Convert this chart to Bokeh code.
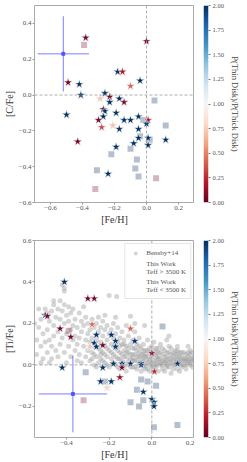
import numpy as np
from bokeh.plotting import figure
from bokeh.models import (ColumnDataSource, LinearColorMapper, FixedTicker,
                          CustomJSTickFormatter, Span, Legend, LegendItem)
from bokeh.layouts import column, row
from bokeh.embed import file_html
from bokeh.resources import INLINE
from bokeh.transform import transform

# ---------------- data: top panel [C/Fe] ----------------
c_star_feh = [-0.38, 0.00, -0.49, -0.42, -0.41, -0.18, -0.15, -0.04, -0.10, -0.26,
              -0.29, -0.23, -0.17, -0.23, -0.14, -0.27, -0.26, -0.19, -0.50, -0.27,
              -0.05, -0.30, -0.14, -0.10, 0.01, 0.00, -0.28, -0.21, -0.17, -0.05,
              -0.05, 0.01, 0.12, -0.43, -0.08, 0.01, -0.19, -0.24]
c_star_cfe = [0.32, 0.30, 0.07, 0.06, 0.00, 0.13, 0.13, 0.08, 0.05, 0.01,
              -0.02, -0.01, -0.02, -0.04, -0.04, -0.08, -0.09, -0.10, -0.11, -0.12,
              -0.12, -0.14, -0.14, -0.14, -0.14, -0.16, -0.18, -0.17, -0.19, -0.19,
              -0.24, -0.24, -0.25, -0.26, -0.27, -0.28, -0.29, -0.44]
c_star_ratio = [0.05, 0.05, 0.05, 2.0, 2.0, 2.0, 0.2, 2.0, 0.42, 2.0,
                0.72, 0.05, 2.0, 2.0, 0.08, 0.05, 2.0, 2.0, 2.0, 2.0,
                2.0, 0.05, 2.0, 2.0, 0.2, 2.0, 0.35, 0.72, 2.0, 2.0,
                2.0, 2.0, 2.0, 0.05, 2.0, 2.0, 2.0, 2.0]

c_sq_feh = [-0.39, 0.05, -0.02, 0.12, -0.04, 0.02, -0.10, -0.22, -0.06, -0.31,
            -0.07, -0.05, 0.06, -0.32]
c_sq_cfe = [0.28, -0.03, -0.14, -0.17, -0.23, -0.25, -0.30, -0.33, -0.36, -0.42,
            -0.41, -0.455, -0.465, -0.525]
c_sq_ratio = [0.05, 2.0, 2.0, 2.0, 2.0, 2.0, 2.0, 2.0, 2.0, 2.0,
              2.0, 2.0, 0.05, 0.05]

c_err_feh, c_err_cfe = [-0.52], [0.23]
c_err_dfeh, c_err_dcfe = [0.16], [0.21]

# ---------------- data: bottom panel [Ti/Fe] ----------------
t_star_feh = [-0.41, -0.30, -0.27, -0.50, -0.49, -0.43, -0.38, -0.28, -0.10, -0.26,
              -0.19, -0.17, -0.08, -0.27, -0.26, -0.23, -0.29, -0.17, 0.00, -0.42,
              -0.23, -0.18, -0.14, -0.14, -0.10, -0.05, -0.05, 0.12, 0.012, -0.15,
              -0.24, -0.19, -0.21, -0.04, 0.00, 0.01, 0.01]
t_star_tife = [0.40, 0.32, 0.32, 0.24, 0.235, 0.175, 0.135, 0.195, 0.175, 0.145,
               0.145, 0.115, 0.115, 0.105, 0.088, 0.095, 0.088, 0.088, 0.057, -0.013,
               -0.013, 0.006, 0.006, -0.013, 0.006, 0.008, 0.0, 0.006, -0.032, -0.06,
               -0.08, -0.08, -0.11, -0.13, -0.165, -0.18, -0.20]
t_star_ratio = [2.0, 0.05, 0.05, 2.0, 0.05, 0.05, 0.05, 0.45, 0.4, 2.0,
                2.0, 2.0, 2.0, 2.0, 2.0, 0.05, 0.72, 2.0, 0.1, 2.0,
                2.0, 2.0, 2.0, 0.05, 2.0, 2.0, 2.0, 2.0, 0.25, 0.15,
                2.0, 2.0, 0.78, 2.0, 2.0, 2.0, 2.0]

t_sq_feh = [-0.39, 0.05, -0.31, -0.22, -0.05, -0.02, 0.02, -0.07, -0.04, -0.32,
            -0.10, -0.06, 0.01, 0.12]
t_sq_tife = [0.165, 0.185, -0.035, -0.08, -0.07, -0.08, -0.10, -0.12, -0.17, -0.17,
             -0.18, -0.20, -0.30, -0.29]
t_sq_ratio = [0.05, 2.0, 2.0, 2.0, 2.0, 2.0, 2.0, 2.0, 2.0, 0.05,
              2.0, 2.0, 2.0, 2.0]

t_err_feh, t_err_tife = [-0.37], [-0.14]
t_err_dfeh, t_err_dtife = [0.16], [0.185]

# Bensby+14 comparison sample: broad part
bensby_feh_a = [
    -0.54, -0.54, -0.53, -0.53, -0.52, -0.52, -0.51, -0.51, -0.50, -0.50, -0.55, -0.52,
    -0.49, -0.49, -0.48, -0.48, -0.47, -0.47, -0.47, -0.46, -0.46, -0.46, -0.45, -0.45, -0.48, -0.49, -0.46,
    -0.44, -0.44, -0.44, -0.43, -0.43, -0.43, -0.42, -0.42, -0.42, -0.41, -0.41, -0.41, -0.41, -0.41, -0.40, -0.40, -0.40,
    -0.39, -0.39, -0.39, -0.38, -0.38, -0.38, -0.37, -0.37, -0.37, -0.36, -0.36, -0.36, -0.35, -0.35, -0.35,
    -0.34, -0.34, -0.34, -0.33, -0.33, -0.33, -0.32, -0.32, -0.31, -0.31, -0.31, -0.30, -0.30, -0.30, -0.32,
    -0.29, -0.29, -0.29, -0.28, -0.28, -0.28, -0.27, -0.27, -0.27, -0.26, -0.26, -0.26, -0.25, -0.25, -0.25, -0.26,
    -0.24, -0.24, -0.24, -0.23, -0.23, -0.23, -0.22, -0.22, -0.22, -0.21, -0.21, -0.21, -0.20, -0.20, -0.20, -0.20, -0.22, -0.24,
    -0.19, -0.19, -0.19, -0.18, -0.18, -0.18, -0.17, -0.17, -0.17, -0.16, -0.16, -0.16, -0.15, -0.15, -0.15, -0.165, -0.17, -0.15,
    -0.14, -0.14, -0.14, -0.13, -0.13, -0.13, -0.12, -0.12, -0.12, -0.11, -0.11, -0.11, -0.10, -0.10, -0.10, -0.12, -0.13, -0.11,
    -0.09, -0.09, -0.09, -0.08, -0.08, -0.08, -0.07, -0.07, -0.07, -0.06, -0.06, -0.06, -0.05, -0.05, -0.05, -0.08, -0.06, -0.09,
    -0.04, -0.04, -0.04, -0.03, -0.03, -0.03, -0.02, -0.02, -0.02, -0.01, -0.01, -0.01, 0.00, 0.00, -0.034, -0.03, -0.01, -0.04,
    0.01, 0.01, 0.01, 0.02, 0.02, 0.02, 0.03, 0.03, 0.03, 0.04, 0.04, 0.04, 0.05, 0.05, 0.05, 0.02, 0.03, 0.01,
    0.06, 0.06, 0.06, 0.07, 0.07, 0.07, 0.08, 0.08, 0.08, 0.09, 0.09, 0.09, 0.10, 0.10, 0.10, 0.07, 0.08,
    0.11, 0.11, 0.11, 0.12, 0.12, 0.12, 0.13, 0.13, 0.13, 0.14, 0.14, 0.14, 0.15, 0.15, 0.12,
    0.16, 0.16, 0.16, 0.17, 0.17, 0.18, 0.18, 0.18, 0.19, 0.19, 0.17]
bensby_tife_a = [
    0.05, 0.12, 0.18, 0.27, 0.09, 0.22, 0.03, 0.15, 0.27, 0.11, 0.20, 0.01,
    0.06, 0.17, 0.21, 0.12, 0.26, 0.03, 0.09, 0.19, 0.29, 0.14, 0.23, 0.07, 0.01, 0.25, 0.31,
    0.27, 0.16, 0.04, 0.31, 0.22, 0.10, 0.385, 0.26, 0.13, 0.37, 0.355, 0.29, 0.20, 0.06, 0.24, 0.15, 0.01,
    0.28, 0.21, 0.09, 0.25, 0.17, 0.04, 0.27, 0.12, 0.19, 0.22, 0.07, 0.14, 0.02, 0.18, 0.10,
    0.25, 0.13, 0.05, 0.21, 0.16, 0.01, 0.09, 0.19, 0.23, 0.12, 0.04, 0.15, 0.07, 0.20, 0.28,
    0.11, 0.17, 0.02, 0.22, 0.13, 0.06, 0.18, 0.09, 0.00, 0.20, 0.12, 0.04, 0.16, 0.08, 0.23, -0.01,
    0.11, 0.03, 0.18, 0.14, 0.06, 0.21, 0.09, 0.01, 0.17, 0.12, 0.04, 0.19, 0.07, 0.15, -0.01, 0.335, 0.24, 0.07,
    0.10, 0.03, 0.17, 0.13, 0.05, 0.20, 0.08, 0.00, 0.15, 0.11, 0.03, 0.18, 0.06, 0.13, -0.02, 0.33, 0.23, 0.09,
    0.10, 0.02, 0.16, 0.07, 0.12, -0.01, 0.04, 0.09, 0.19, 0.06, 0.14, 0.00, 0.03, 0.10, 0.235, -0.03, 0.04, 0.08,
    0.05, 0.12, -0.01, 0.02, 0.08, 0.16, 0.04, 0.10, -0.02, 0.01, 0.06, 0.13, 0.03, 0.08, -0.03, 0.20, 0.04, 0.02,
    0.00, 0.05, 0.10, 0.02, 0.07, -0.02, 0.04, 0.01, 0.12, 0.03, 0.06, -0.03, 0.01, 0.09, 0.19, 0.04, 0.00, 0.03,
    0.02, 0.05, -0.02, 0.00, 0.04, 0.08, 0.01, 0.06, -0.03, 0.03, 0.00, 0.10, 0.02, 0.05, -0.02, 0.02, 0.03, 0.11,
    0.01, 0.04, -0.03, 0.02, 0.06, 0.00, 0.03, -0.01, 0.09, 0.01, 0.05, -0.04, 0.02, 0.06, 0.00, 0.12, 0.14,
    0.03, 0.00, 0.07, 0.02, -0.02, 0.05, 0.01, 0.04, -0.03, 0.02, 0.06, -0.01, 0.03, 0.00, 0.09,
    0.02, 0.05, -0.02, 0.01, 0.04, 0.00, 0.03, 0.07, 0.02, -0.01, 0.09]
# Bensby+14: dense thin-disk band near solar
bensby_feh_b = [
    -0.28, -0.27, -0.25, -0.24, -0.23, -0.22, -0.21, -0.21, -0.19, -0.18, -0.18, -0.17,
    -0.16, -0.16, -0.15, -0.14, -0.13, -0.13, -0.12, -0.11, -0.10, -0.10, -0.09, -0.09,
    -0.08, -0.08, -0.07, -0.07, -0.06, -0.06, -0.05, -0.05, -0.04, -0.04, -0.03, -0.03,
    -0.02, -0.02, -0.01, -0.01, 0.00, 0.00, 0.00, 0.01, 0.01, 0.02, 0.02, 0.03, 0.03,
    0.04, 0.04, 0.05, 0.05, 0.06, 0.06, 0.07, 0.07, 0.08, 0.08, 0.09, 0.09, 0.10, 0.10,
    0.11, 0.11, 0.12, 0.12, 0.13, 0.13, 0.14, 0.14, 0.15, 0.15, 0.16, 0.16, 0.17, 0.17,
    0.18, 0.18, 0.19, 0.19, 0.20, 0.20]
bensby_tife_b = [
    0.03, 0.05, 0.01, 0.05, 0.02, 0.05, 0.00, 0.08, 0.06, 0.01, 0.09, 0.04,
    0.07, -0.01, 0.03, 0.05, 0.01, 0.10, 0.06, 0.02, 0.05, -0.01, 0.08, 0.03,
    0.05, -0.01, 0.02, 0.07, 0.00, 0.09, 0.05, 0.01, 0.07, -0.01, 0.05, 0.00,
    0.07, -0.02, 0.02, 0.08, 0.04, -0.01, 0.06, 0.00, 0.07, 0.06, -0.01, 0.04, 0.08,
    0.01, 0.06, 0.00, 0.08, 0.02, 0.07, -0.01, 0.04, 0.01, 0.06, 0.03, 0.08, 0.04, -0.02,
    0.05, 0.01, 0.03, 0.07, 0.02, 0.06, 0.00, 0.04, 0.02, 0.06, 0.00, 0.03, 0.02, 0.06,
    0.01, 0.05, 0.03, 0.06, 0.02, 0.04]

cbar_ticks = [0.0, 0.25, 0.5, 0.75, 1.0, 1.25, 1.5, 1.75, 2.0]

# ---------------- styling ----------------
FONT = "Liberation Serif"
TICK_C = "#555555"
LAB_C = "#333333"
RDBU = ['#67001f', '#b2182b', '#d6604d', '#f4a582', '#fddbc7', '#f7f7f7',
        '#d1e5f0', '#92c5de', '#4393c3', '#2166ac', '#053061']


def interp_palette(pal, n):
    rgb = np.array([[int(h[i:i + 2], 16) for i in (1, 3, 5)] for h in pal], dtype=float)
    xs = np.linspace(0, 1, len(pal))
    t = np.linspace(0, 1, n)
    out = []
    for v in t:
        c = [int(round(np.interp(v, xs, rgb[:, k]))) for k in range(3)]
        out.append("#%02x%02x%02x" % tuple(c))
    return out


PALETTE = interp_palette(RDBU, 256)

fmt1 = CustomJSTickFormatter(code="""
    const s = Math.abs(tick).toFixed(1);
    return (tick < -1e-9 ? "\\u2212" : "") + s;
""")
fmt2 = CustomJSTickFormatter(code="return tick.toFixed(2);")

BOTTOM = 25
FRAME_H = 197


def style_axis(ax, ticks, fmt):
    ax.ticker = FixedTicker(ticks=ticks)
    ax.formatter = fmt
    ax.axis_line_color = None
    ax.major_tick_line_color = "#999999"
    ax.major_tick_out = 2
    ax.major_tick_in = 0
    ax.minor_tick_line_color = None
    ax.major_label_text_font = FONT
    ax.major_label_text_font_size = "7px"
    ax.major_label_text_color = TICK_C
    ax.major_label_standoff = 1
    ax.axis_label_text_font = FONT
    ax.axis_label_text_font_size = "10px"
    ax.axis_label_text_font_style = "normal"
    ax.axis_label_text_color = LAB_C
    ax.axis_label_standoff = 1


def make_fig(xr, yr, xticks, yticks, ylabel, height, top_border):
    p = figure(width=194, height=height, x_range=xr, y_range=yr,
               output_backend="svg", toolbar_location=None,
               min_border_left=32, min_border_right=0,
               min_border_top=top_border, min_border_bottom=BOTTOM)
    p.grid.visible = False
    p.outline_line_color = "#aaaaaa"
    p.outline_line_width = 1
    style_axis(p.xaxis[0], xticks, fmt1)
    style_axis(p.yaxis[0], yticks, fmt1)
    p.xaxis.axis_label = "[Fe/H]"
    p.yaxis.axis_label = ylabel
    p.add_layout(Span(location=0, dimension="height", line_color="#999999",
                      line_dash="3 2", line_width=0.8))
    p.add_layout(Span(location=0, dimension="width", line_color="#999999",
                      line_dash="3 2", line_width=0.8))
    mapper = LinearColorMapper(palette=PALETTE, low=0, high=2)
    return p, mapper


def make_cbar(mapper, height, top_border):
    c = figure(width=48, height=height, x_range=(0, 1), y_range=(0, 2),
               output_backend="svg", toolbar_location=None,
               x_axis_location=None, y_axis_location="right",
               min_border_left=9, min_border_right=28,
               min_border_top=top_border, min_border_bottom=BOTTOM)
    c.grid.visible = False
    c.outline_line_color = None
    grad = np.linspace(0, 2, 256).reshape(256, 1)
    c.image(image=[grad], x=0, y=0, dw=1, dh=2, color_mapper=mapper)
    ax = c.yaxis[0]
    style_axis(ax, cbar_ticks, fmt2)
    ax.major_label_text_font_size = "6.5px"
    ax.major_tick_line_color = "#777777"
    ax.major_label_standoff = 2
    ax.axis_label = "P(Thin Disk)/P(Thick Disk)"
    ax.axis_label_text_font_size = "8.5px"
    ax.axis_label_text_color = "#444444"
    ax.axis_label_standoff = 3
    return c


def add_points(p, mapper, sfeh, sy, sr, qfeh, qy, qr):
    ssrc = ColumnDataSource(dict(x=sfeh, y=sy, r=sr))
    qsrc = ColumnDataSource(dict(x=qfeh, y=qy, r=qr))
    p.scatter("x", "y", source=qsrc, marker="square", size=6,
              fill_color=transform("r", mapper), fill_alpha=0.3, line_color=None)
    p.scatter("x", "y", source=ssrc, marker="star", size=9,
              fill_color=transform("r", mapper), line_color="#e8eef5",
              line_width=0.6)


def add_err(p, ex, ey, dx, dy):
    src = ColumnDataSource(dict(x=ex, y=ey, x0=[a - b for a, b in zip(ex, dx)],
                                x1=[a + b for a, b in zip(ex, dx)],
                                y0=[a - b for a, b in zip(ey, dy)],
                                y1=[a + b for a, b in zip(ey, dy)]))
    p.segment(x0="x0", x1="x1", y0="y", y1="y", source=src,
              line_color="#4646ff", line_alpha=0.7, line_width=1)
    p.segment(x0="x", x1="x", y0="y0", y1="y1", source=src,
              line_color="#4646ff", line_alpha=0.7, line_width=1)
    p.scatter("x", "y", source=src, marker="square", size=3,
              color="#4646ff", alpha=0.8)


# ---------------- top figure ----------------
T1 = 5
H1 = T1 + FRAME_H + BOTTOM
p1, m1 = make_fig((-0.7, 0.3), (-0.6, 0.5), [-0.6, -0.4, -0.2, 0.0, 0.2],
                  [-0.6, -0.4, -0.2, 0.0, 0.2, 0.4], "[C/Fe]", H1, T1)
add_points(p1, m1, c_star_feh, c_star_cfe, c_star_ratio, c_sq_feh, c_sq_cfe, c_sq_ratio)
add_err(p1, c_err_feh, c_err_cfe, c_err_dfeh, c_err_dcfe)
c1 = make_cbar(m1, H1, T1)

# ---------------- bottom figure ----------------
T2 = 240 - H1
H2 = T2 + FRAME_H + BOTTOM
p2, m2 = make_fig((-0.55, 0.2), (-0.35, 0.6), [-0.4, -0.2, 0.0, 0.2],
                  [-0.2, 0.0, 0.2, 0.4, 0.6], "[Ti/Fe]", H2, T2)
rb = p2.scatter(bensby_feh_a + bensby_feh_b, bensby_tife_a + bensby_tife_b,
                marker="circle", size=5, fill_color="#9a9a9a", fill_alpha=0.42,
                line_color=None)
add_points(p2, m2, t_star_feh, t_star_tife, t_star_ratio, t_sq_feh, t_sq_tife, t_sq_ratio)
add_err(p2, t_err_feh, t_err_tife, t_err_dfeh, t_err_dtife)
rs = p2.scatter(x=[], y=[], marker="star", size=9, color="black")
rq = p2.scatter(x=[], y=[], marker="square", size=6, color="black")
leg = Legend(items=[LegendItem(label="Bensby+14", renderers=[rb]),
                    LegendItem(label="This Work\nTeff > 3500 K", renderers=[rs]),
                    LegendItem(label="This Work\nTeff < 3500 K", renderers=[rq])],
             location="top_right", label_text_font=FONT, label_text_font_size="7px",
             label_text_color=TICK_C, glyph_width=12, glyph_height=10,
             label_height=10, spacing=2, padding=4, margin=3,
             border_line_color="#cccccc", background_fill_alpha=0.85)
p2.add_layout(leg)
c2 = make_cbar(m2, H2, T2)

layout = column(row(p1, c1, spacing=0), row(p2, c2, spacing=0), spacing=0)
open("out.html", "w").write(file_html(layout, INLINE))
